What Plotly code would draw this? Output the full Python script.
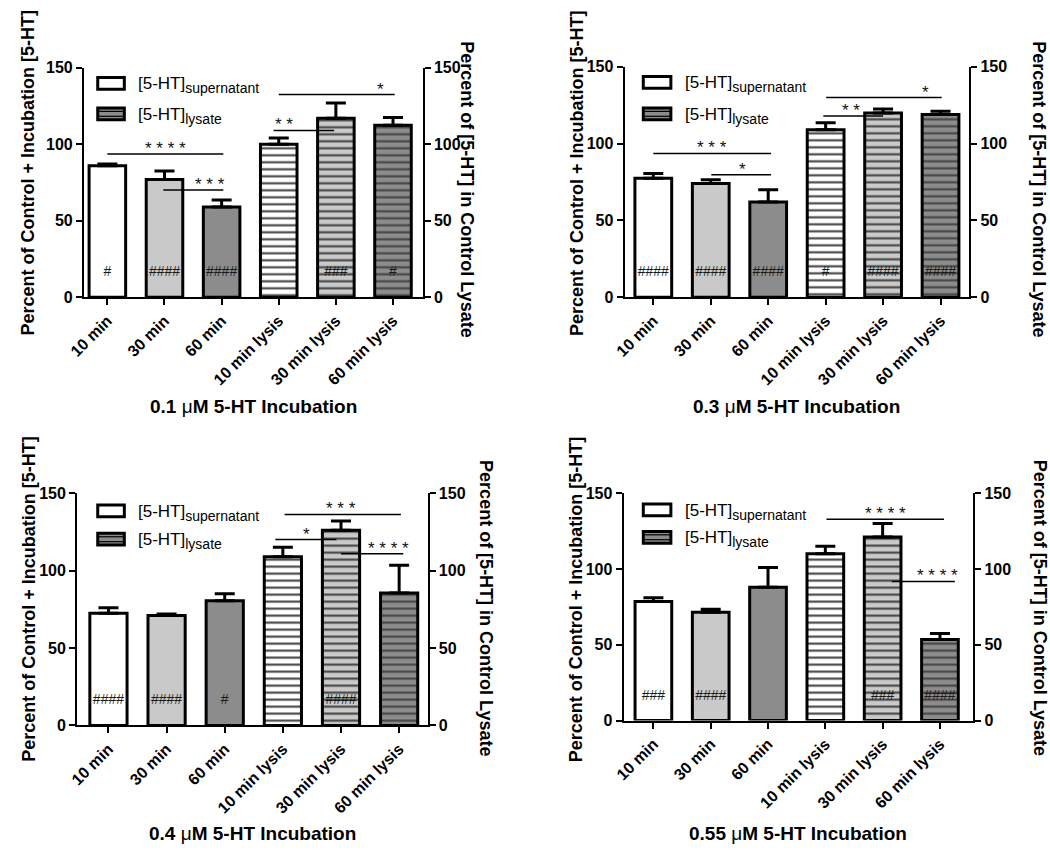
import plotly.graph_objects as go

# ---------------- data ----------------
categories = ["10 min", "30 min", "60 min", "10 min lysis", "30 min lysis", "60 min lysis"]
panel_titles = ["0.1 μM 5-HT Incubation", "0.3 μM 5-HT Incubation",
                "0.4 μM 5-HT Incubation", "0.55 μM 5-HT Incubation"]

vals_01 = [86, 77, 59, 100, 117, 112.5]
err_01 = [1, 5.5, 4.5, 4, 10, 5]
hash_01 = ["#", "####", "####", "", "###", "#"]

vals_03 = [77.5, 74, 62, 109, 120, 119]
err_03 = [3, 2.5, 8, 4.5, 2.5, 2]
hash_03 = ["####", "####", "####", "#", "####", "####"]

vals_04 = [72.5, 71, 80.5, 109, 126, 85.5]
err_04 = [3.5, 1, 4.5, 6, 6, 18]
hash_04 = ["####", "####", "#", "", "####", ""]

vals_055 = [78.5, 71.5, 88, 110, 121, 53.5]
err_055 = [2.5, 2, 13, 5, 9, 4]
hash_055 = ["###", "####", "", "", "###", "####"]

hash_level = 16

# significance brackets: (from category idx, to category idx, level, stars, star position)
sig_01 = [(0, 2.03, 93.6, "****", 1.02), (0.98, 2.03, 70, "***", 1.79),
          (2.91, 3.97, 109, "**", 3.09), (3.0, 5.03, 132.5, "*", 4.78)]
sig_03 = [(0, 2.05, 93.6, "***", 1.03), (1.01, 2.05, 79.7, "*", 1.56),
          (2.96, 4.0, 118, "**", 3.44), (3.01, 5.02, 130, "*", 4.74)]
sig_04 = [(3.03, 5.03, 136.3, "***", 4.0), (2.87, 3.92, 120, "*", 3.41),
          (4.0, 5.07, 110.9, "****", 4.82)]
sig_055 = [(3.02, 5.07, 132.8, "****", 4.05), (4.16, 5.26, 91.8, "****", 4.95)]

panels = [
    (vals_01, err_01, hash_01, sig_01),
    (vals_03, err_03, hash_03, sig_03),
    (vals_04, err_04, hash_04, sig_04),
    (vals_055, err_055, hash_055, sig_055),
]

# ---------------- style / geometry ----------------
W, H = 1050, 855
FONT = "Liberation Sans, Arial, sans-serif"
fills = ["white", "#c9c9c9", "#8c8c8c", "white", "#c9c9c9", "#8c8c8c"]
shapes_pat = ["", "", "", "-", "-", "-"]

# per panel: left px, right px, y(0) px, y(150) px, x-range
geom = [
    dict(l=69, r=413, y0=295, y1=61, xr=[-0.41, 5.52]),
    dict(l=618, r=968, y0=295, y1=60, xr=[-0.50, 5.50]),
    dict(l=62, r=418, y0=732, y1=495, xr=[-0.54, 5.49]),
    dict(l=617, r=972, y0=727, y1=495, xr=[-0.52, 5.58]),
]
# legend boxes: box x0,x1, row centers, text x
leg = [
    dict(bx0=83, bx1=110, ry=[77, 108], tx=122),
    dict(bx0=637, bx1=665, ry=[76, 108], tx=677),
    dict(bx0=83, bx1=110, ry=[513, 542], tx=122),
    dict(bx0=637, bx1=665, ry=[512, 540], tx=677),
]
# axis label positions: left x, right x, left center y, right center y, title y
labpos = [
    dict(lx=12, rx=458, ly=168, ry=185, ty=407),
    dict(lx=569, rx=1039, ly=168, ry=185, ty=407),
    dict(lx=13, rx=477, ly=603, ry=612, ty=842),
    dict(lx=569, rx=1040, ly=603, ry=612, ty=842),
]

def px(x):
    return x / W

def py(y):
    return 1 - y / H

fig = go.Figure()
layout = dict(
    width=W, height=H, margin=dict(l=0, r=0, t=0, b=0), autosize=False,
    paper_bgcolor="white", plot_bgcolor="white", showlegend=False,
    font=dict(family=FONT, color="black"),
)
shapes = []
annotations = []

axis_common = dict(showline=True, linecolor="black", linewidth=2, ticks="outside",
                   ticklen=6, tickwidth=2, tickcolor="black", showgrid=False,
                   zeroline=False, fixedrange=True)

for k, (vals, errs, hashes, sigs) in enumerate(panels):
    n = k + 1
    g = geom[k]
    xa, ya, ya2 = f"x{n}", f"y{n}", f"y{n + 4}"
    fig.add_trace(go.Bar(
        x=categories, y=vals, xaxis=xa, yaxis=ya, width=0.64,
        marker=dict(color=fills, line=dict(color="black", width=3),
                    pattern=dict(shape=shapes_pat, fgcolor=["black"] * 6,
                                 size=7, solidity=0.3, fillmode="overlay", fgopacity=1)),
        error_y=dict(type="data", array=errs, arrayminus=[0] * len(errs), symmetric=False,
                     color="black", thickness=3, width=10),
        hoverinfo="skip",
    ))
    fig.add_trace(go.Scatter(
        x=categories, y=[hash_level] * len(categories), text=hashes, mode="text",
        xaxis=xa, yaxis=ya2, textfont=dict(size=14, color="#1a1a1a", family=FONT),
        hoverinfo="skip",
    ))
    xd = [px(g["l"]), px(g["r"])]
    yd = [py(g["y0"]), py(g["y1"])]
    layout[f"xaxis{n}"] = dict(domain=xd, anchor=ya, range=g["xr"], tickangle=-45,
                               tickfont=dict(size=16, family=FONT, weight="bold"),
                               **axis_common)
    layout[f"yaxis{n}"] = dict(domain=yd, anchor=xa, range=[0, 150], tickvals=[0, 50, 100, 150],
                               tickfont=dict(size=16, family=FONT, weight="bold"),
                               **axis_common)
    layout[f"yaxis{n + 4}"] = dict(overlaying=ya, anchor=xa, side="right", range=[0, 150],
                                   tickvals=[0, 50, 100, 150],
                                   tickfont=dict(size=16, family=FONT, weight="bold"),
                                   **axis_common)

    # significance brackets
    for (a, b, lev, stars, sx) in sigs:
        shapes.append(dict(type="line", xref=xa, yref=ya, x0=a, x1=b, y0=lev, y1=lev,
                           line=dict(color="black", width=1.5)))
        annotations.append(dict(xref=xa, yref=ya, x=sx, y=lev, text=" ".join(stars),
                                showarrow=False, yanchor="bottom", yshift=-6,
                                font=dict(size=17, family=FONT, color="#111")))

    # legend
    L = leg[k]
    for j, (lab, sub) in enumerate([("[5-HT]", "supernatant"), ("[5-HT]", "lysate")]):
        cy = L["ry"][j]
        shapes.append(dict(type="rect", xref="paper", yref="paper",
                           x0=px(L["bx0"]), x1=px(L["bx1"]), y0=py(cy + 6), y1=py(cy - 6),
                           fillcolor="white" if j == 0 else "#8c8c8c",
                           line=dict(color="black", width=3)))
        if j == 1:
            for off in (-2.5, 2.5):
                shapes.append(dict(type="line", xref="paper", yref="paper",
                                   x0=px(L["bx0"]), x1=px(L["bx1"]), y0=py(cy + off), y1=py(cy + off),
                                   line=dict(color="black", width=1.2)))
        annotations.append(dict(xref="paper", yref="paper", x=px(L["tx"]), y=py(cy),
                                xanchor="left", yanchor="middle", showarrow=False, yshift=-2,
                                text=f"{lab}<sub><span style='font-size:14px'>{sub}</span></sub>",
                                font=dict(size=17, family=FONT, color="black")))

    # axis titles
    P = labpos[k]
    annotations.append(dict(xref="paper", yref="paper", x=px(P["lx"]), y=py(P["ly"]),
                            text="<b>Percent of Control + Incubation [5-HT]</b>", textangle=-90,
                            showarrow=False, xanchor="center", yanchor="middle",
                            font=dict(size=18, family=FONT)))
    annotations.append(dict(xref="paper", yref="paper", x=px(P["rx"]), y=py(P["ry"]),
                            text="<b>Percent of [5-HT] in Control Lysate</b>", textangle=90,
                            showarrow=False, xanchor="center", yanchor="middle",
                            font=dict(size=18, family=FONT)))
    annotations.append(dict(xref="paper", yref="paper", x=px((g["l"] + g["r"]) / 2), y=py(P["ty"]),
                            text="<b>" + panel_titles[k].replace("μ", "</b>μ<b>") + "</b>",
                            showarrow=False, xanchor="center", yanchor="middle",
                            font=dict(size=19, family=FONT)))

layout["shapes"] = shapes
layout["annotations"] = annotations
fig.update_layout(**layout)
fig.write_html("out.html", config={"displayModeBar": False},
               post_script="document.body.style.margin='0px';document.body.style.overflow='hidden';")
